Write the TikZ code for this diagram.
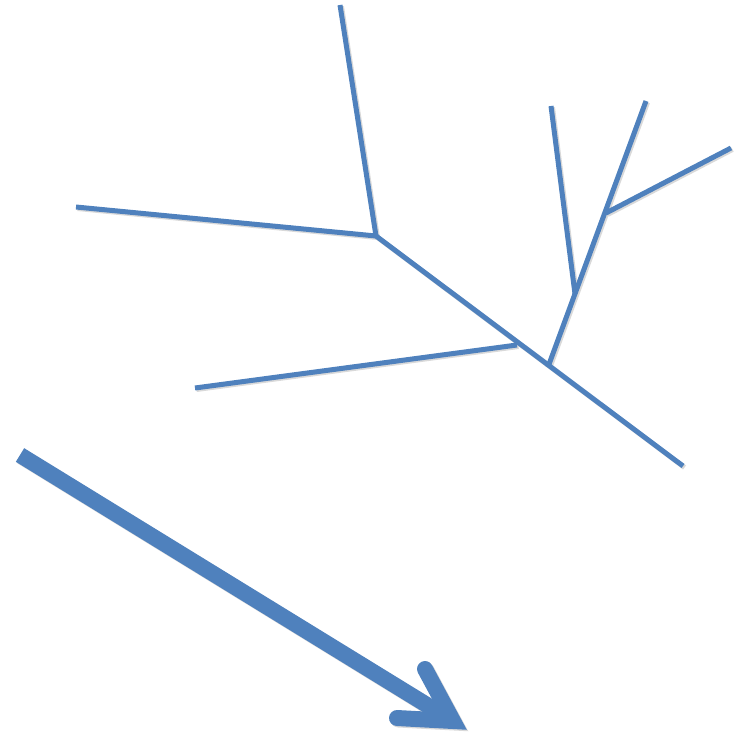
\documentclass[tikz,border=0pt]{standalone}
\usepackage{tikz}
\definecolor{branchblue}{RGB}{79,129,189}

\begin{document}
\begin{tikzpicture}[
        x=1pt, y=-1pt,
        branch/.style={draw=branchblue, line width=5pt},
        shade/.style={draw=black!15, line width=5pt, transform canvas={shift={(1.5pt,-1.5pt)}}},
        bigarrow/.style={draw=branchblue, line width=16pt}
    ]
        \useasboundingbox (0,0) rectangle (746,735);

        \coordinate (top) at (340,5);
        \coordinate (knot1) at (376,236);
        \coordinate (lend) at (76,207);
        \coordinate (tend) at (683,466);
        \coordinate (knot2) at (517,345);
        \coordinate (lend2) at (195,388);
        \coordinate (knot3) at (548,367);
        \coordinate (tip3) at (646,101);
        \coordinate (knot4) at (575,294);
        \coordinate (tip4) at (551,106);
        \coordinate (knot5) at (606,213);
        \coordinate (rend) at (731,148);

        \coordinate (astart) at (20,455);
        \coordinate (atip) at (453,721);
        \coordinate (wing1) at (425,669);
        \coordinate (wing2) at (397,718);

        \foreach \a/\b in {top/knot1, lend/knot1, knot1/tend, lend2/knot2, knot3/tip3, tip4/knot4, knot5/rend} {
            \draw[shade] (\a) -- (\b);
        }
        \draw[shade, line width=16pt, shorten >=6pt] (astart) -- (atip);
        \draw[shade, line width=16pt, line cap=round, line join=miter] (wing1) -- (atip) -- (wing2);

        \foreach \a/\b in {top/knot1, lend/knot1, knot1/tend, lend2/knot2, knot3/tip3, tip4/knot4, knot5/rend} {
            \draw[branch] (\a) -- (\b);
        }
        \draw[bigarrow, shorten >=6pt] (astart) -- (atip);
        \draw[bigarrow, line cap=round, line join=miter] (wing1) -- (atip) -- (wing2);
    \end{tikzpicture}
\end{document}
